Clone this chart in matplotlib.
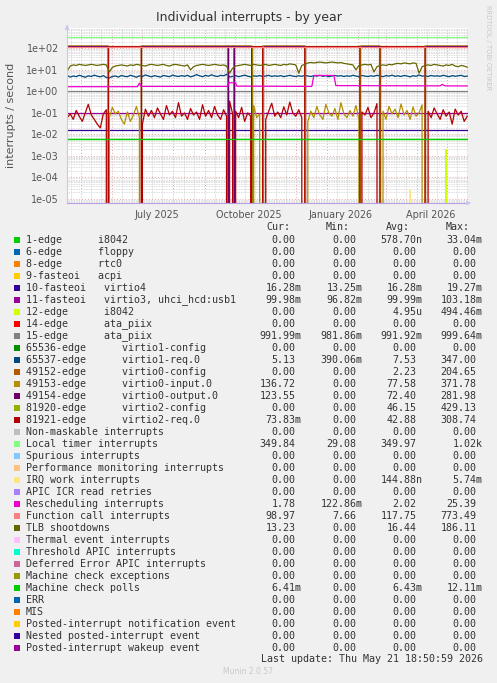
import numpy as np
import pandas as pd
import matplotlib
matplotlib.use('Agg')
import matplotlib.pyplot as plt
import matplotlib.dates as mdates
from matplotlib.patches import Rectangle
from matplotlib.ticker import FixedLocator, LogLocator, NullFormatter

W, H = 497, 683

#%% data
start = pd.Timestamp('2025-04-16 18:50')
end = pd.Timestamp('2026-05-21 18:50')
first_sample = pd.Timestamp('2025-04-17')   # samples every 3 days

# noisy low trace (virtio2-req.0 in R periods, virtio0-input.0 in G periods)
low_trace = [0.06, 0.09, 0.05, 0.13, 0.07, 0.04, 0.10, 0.25, 0.08, 0.05,
             0.03, 0.02, 0.09, 0.14, 0.06, 0.18, 0.09, 0.12, 0.05, 0.03,
             0.11, 0.04, 0.08, 0.20, 0.06, 0.03, 0.15, 0.07, 0.13, 0.06,
             0.17, 0.09, 0.05, 0.22, 0.08, 0.12, 0.06, 0.30, 0.07, 0.10,
             0.05, 0.16, 0.08, 0.11, 0.05, 0.24, 0.07, 0.13, 0.06, 0.20,
             0.08, 0.05, 0.14, 0.07, 0.35, 0.09, 0.12, 0.06, 0.18, 0.04,
             0.10, 0.07, 0.22, 0.06, 0.09, 0.15, 0.05, 0.12, 0.28, 0.07,
             0.11, 0.06, 0.19, 0.08, 0.32, 0.10, 0.07, 0.14, 0.06, 0.09,
             0.04, 0.12, 0.06, 0.20, 0.08, 0.05, 0.25, 0.10, 0.07, 0.16,
             0.05, 0.30, 0.09, 0.06, 0.13, 0.07, 0.22, 0.05, 0.11, 0.08,
             0.18, 0.06, 0.10, 0.27, 0.07, 0.12, 0.05, 0.20, 0.09, 0.15,
             0.06, 0.26, 0.08, 0.13, 0.05, 0.19, 0.07, 0.10, 0.24, 0.08,
             0.12, 0.06, 0.17, 0.09, 0.05, 0.14, 0.07, 0.11, 0.03, 0.15,
             0.08, 0.12, 0.04, 0.07]

tlb_shootdowns = [9, 15, 17, 16, 18, 17, 16, 17, 18, 17,
                  16, 17, 18, 17, 8, 13, 15, 16, 17, 16,
                  15, 17, 16, 18, 17, 16, 15, 17, 18, 17,
                  16, 17, 18, 16, 15, 17, 18, 17, 16, 15,
                  17, 10, 14, 16, 17, 18, 17, 16, 17, 18,
                  17, 16, 17, 15, 7, 12, 15, 16, 17, 18,
                  17, 16, 18, 17, 16, 17, 18, 16, 17, 18,
                  17, 16, 18, 17, 19, 18, 17, 7, 16, 18,
                  21, 22, 21, 22, 23, 22, 21, 22, 23, 22,
                  21, 22, 20, 19, 18, 17, 10, 16, 17, 18,
                  17, 18, 8, 14, 16, 17, 16, 18, 17, 19,
                  20, 19, 21, 20, 19, 21, 20, 7, 14, 16,
                  17, 16, 18, 17, 16, 15, 17, 16, 18, 15,
                  14, 16, 15, 13.2]

virtio1_req = [5.5, 4.6, 5.2, 4.8, 5.6, 5.0, 4.5, 5.3, 4.9, 5.7,
               5.1, 4.7, 5.4, 4.4, 4.2, 4.9, 5.2, 4.6, 5.5, 5.0,
               4.8, 5.6, 5.1, 4.5, 5.3, 4.9, 5.8, 5.2, 4.7, 5.4,
               5.0, 4.6, 5.5, 5.1, 4.8, 5.7, 5.2, 4.9, 5.4, 5.0,
               5.6, 4.7, 5.2, 6.0, 5.3, 4.8, 5.5, 5.1, 5.9, 5.2,
               4.9, 5.6, 5.3, 6.2, 4.6, 5.0, 5.4, 4.8, 5.2, 5.7,
               5.1, 4.7, 5.3, 5.0, 5.5, 4.8, 5.2, 5.6, 4.9, 5.3,
               5.0, 5.4, 4.8, 5.2, 5.6, 5.1, 4.9, 5.3, 5.0, 5.5,
               5.2, 4.9, 5.4, 5.1, 5.6, 5.0, 5.3, 4.8, 5.2, 5.5,
               5.1, 5.4, 4.9, 5.3, 5.0, 5.6, 5.2, 4.8, 5.5, 5.1,
               4.9, 5.3, 5.0, 5.6, 5.2, 4.8, 5.4, 5.1, 5.7, 5.0,
               5.3, 4.9, 5.5, 5.2, 4.7, 5.4, 5.0, 5.8, 5.1, 5.3,
               4.9, 5.5, 5.1, 5.3, 5.0, 5.6, 5.2, 4.8, 5.4, 5.0,
               5.3, 5.6, 4.9, 5.13]

# disk traffic moves between virtio0 and virtio2, every switch drops to zero
switch_dates = ['2025-05-28', '2025-06-30', '2025-09-24', '2025-09-30', '2025-10-18',
                '2025-10-29', '2025-12-10', '2026-02-03', '2026-02-23', '2026-04-09']
period_kind = ['R', 'G', 'R', 'R', 'R', 'G', 'R', 'G', 'R', 'G', 'R']
virtio0_input_high = 130
virtio0_output_high = 122
virtio2_config_high = 135
virtio2_req_high = 120

resched_dates = ['2025-04-17', '2025-06-26', '2025-06-28', '2025-06-30', '2025-09-24',
                 '2025-09-25', '2025-10-02', '2025-10-03', '2025-12-17', '2025-12-19',
                 '2026-01-08', '2026-01-10', '2026-04-24', '2026-04-26', '2026-04-29',
                 '2026-05-21']
resched_vals = [1.65, 1.65, 2.4, 1.7, 1.7, 2.5, 2.5, 1.75, 1.7, 5.5,
                5.5, 1.85, 1.8, 2.1, 1.8, 1.78]

local_timer = 350
function_call = 118
ata_piix_15 = 0.992
virtio3_usb = 0.0999
virtio4 = 0.0163
mce_polls = 0.0064

kbd_dates = ['2026-04-29', '2026-04-30', '2026-05-01']
kbd_vals = [0, 2.0e-3, 0]
irq_work_dates = ['2026-03-24', '2026-03-25', '2026-03-26']
irq_work_vals = [0, 2.5e-5, 0]

legend_labels = ['1-edge      i8042', '6-edge      floppy', '8-edge      rtc0',
                 '9-fasteoi   acpi', '10-fasteoi   virtio4',
                 '11-fasteoi   virtio3, uhci_hcd:usb1', '12-edge      i8042',
                 '14-edge      ata_piix', '15-edge      ata_piix',
                 '65536-edge      virtio1-config', '65537-edge      virtio1-req.0',
                 '49152-edge      virtio0-config', '49153-edge      virtio0-input.0',
                 '49154-edge      virtio0-output.0', '81920-edge      virtio2-config',
                 '81921-edge      virtio2-req.0', 'Non-maskable interrupts',
                 'Local timer interrupts', 'Spurious interrupts',
                 'Performance monitoring interrupts', 'IRQ work interrupts',
                 'APIC ICR read retries', 'Rescheduling interrupts',
                 'Function call interrupts', 'TLB shootdowns', 'Thermal event interrupts',
                 'Threshold APIC interrupts', 'Deferred Error APIC interrupts',
                 'Machine check exceptions', 'Machine check polls', 'ERR', 'MIS',
                 'Posted-interrupt notification event', 'Nested posted-interrupt event',
                 'Posted-interrupt wakeup event']
legend_colors = ['#00CC00', '#0066B3', '#FF8000', '#FFCC00', '#330099', '#990099',
                 '#CCFF00', '#FF0000', '#808080', '#008F00', '#00487D', '#B35A00',
                 '#B38F00', '#6B006B', '#8FB300', '#B30000', '#BEBEBE', '#80FF80',
                 '#80C9FF', '#FFC080', '#FFE680', '#AA80FF', '#EE00CC', '#FF8080',
                 '#666600', '#FFBFFF', '#00FFCC', '#CC6699', '#999900', '#00CC00',
                 '#0066B3', '#FF8000', '#FFCC00', '#330099', '#990099']
z = '0.00'
cur_vals = [z, z, z, z, '16.28m', '99.98m', z, z, '991.99m', z, '5.13', z, '136.72',
            '123.55', z, '73.83m', z, '349.84', z, z, z, z, '1.78', '98.97', '13.23',
            z, z, z, z, '6.41m', z, z, z, z, z]
min_vals = [z, z, z, z, '13.25m', '96.82m', z, z, '981.86m', z, '390.06m', z, z,
            z, z, z, z, '29.08', z, z, z, z, '122.86m', '7.66', z,
            z, z, z, z, z, z, z, z, z, z]
avg_vals = ['578.70n', z, z, z, '16.28m', '99.99m', '4.95u', z, '991.92m', z, '7.53',
            '2.23', '77.58', '72.40', '46.15', '42.88', z, '349.97', z, z, '144.88n', z,
            '2.02', '117.75', '16.44', z, z, z, z, '6.43m', z, z, z, z, z]
max_vals = ['33.04m', z, z, z, '19.27m', '103.18m', '494.46m', z, '999.64m', z, '347.00',
            '204.65', '371.78', '281.98', '429.13', '308.74', z, '1.02k', z, z, '5.74m', z,
            '25.39', '773.49', '186.11', z, z, z, z, '12.11m', z, z, z, z, z]

#%% build the virtio series from the switch list
sample_dates = pd.date_range(first_sample, periods=len(low_trace), freq='3D')
low = np.array(low_trace)
edges = [start] + [pd.Timestamp(d) for d in switch_dates] + [end]


def virtio_series(high, high_kind, low_values):
    xs, ys = [], []
    for a, b, kind in zip(edges[:-1], edges[1:], period_kind):
        if a != start:
            xs.append(a); ys.append(0)
        if kind == high_kind:
            xs += [a, b]; ys += [high, high]
        else:
            m = (sample_dates > a) & (sample_dates < b)
            xs += list(sample_dates[m]); ys += list(low_values[m])
        if b != end:
            xs.append(b); ys.append(0)
    return xs, ys


#%% figure
fig = plt.figure(figsize=(W / 100, H / 100), dpi=100, facecolor='#F0F0F0')
ax = fig.add_axes([67 / W, 1 - 203 / H, 401 / W, 175 / H])
ax.set_facecolor('white')
ax.set_yscale('log')
ax.set_xlim(start, end)
ax.set_ylim(6.5e-6, 880)

lw = 0.9
ax.plot([start, end], [mce_polls] * 2, color='#00CC00', lw=lw)  # drawn again below in order
ax.plot([start, end], [virtio4] * 2, color='#330099', lw=lw)
ax.plot([start, end], [virtio3_usb] * 2, color='#990099', lw=lw)
ax.plot(pd.to_datetime(kbd_dates), kbd_vals, color='#CCFF00', lw=lw)
ax.plot([start, end], [ata_piix_15] * 2, color='#808080', lw=lw)
ax.plot(sample_dates, virtio1_req, color='#00487D', lw=lw)
x, y = virtio_series(virtio0_input_high, 'R', low)
ax.plot(x, y, color='#B38F00', lw=lw)
x, y = virtio_series(virtio0_output_high, 'R', low * 0)
ax.plot(x, y, color='#6B006B', lw=lw)
x, y = virtio_series(virtio2_config_high, 'G', low * 0)
ax.plot(x, y, color='#8FB300', lw=lw)
x, y = virtio_series(virtio2_req_high, 'G', low)
ax.plot(x, y, color='#B30000', lw=lw)
ax.plot([start, end], [local_timer] * 2, color='#80FF80', lw=lw)
ax.plot(pd.to_datetime(irq_work_dates), irq_work_vals, color='#FFE680', lw=lw)
ax.plot(pd.to_datetime(resched_dates), resched_vals, color='#EE00CC', lw=lw)
ax.plot([start, end], [function_call] * 2, color='#FF8080', lw=lw)
ax.plot(sample_dates, tlb_shootdowns, color='#666600', lw=lw)
ax.plot([start, end], [mce_polls] * 2, color='#00CC00', lw=lw)

# grid
ax.set_axisbelow(True)
ax.yaxis.set_major_locator(FixedLocator([1e-5, 1e-4, 1e-3, 1e-2, 1e-1, 1, 10, 100]))
ax.yaxis.set_major_formatter(lambda v, p: '%.0e' % v)
ax.yaxis.set_minor_locator(LogLocator(base=10, subs=range(2, 10), numticks=30))
ax.yaxis.set_minor_formatter(NullFormatter())
ax.grid(True, which='minor', axis='y', color='#D0D0D0', ls=(0, (1, 1)), lw=0.6)
ax.grid(True, which='major', axis='y', color='#EBA5A5', ls=(0, (1, 2)), lw=0.7)
ax.xaxis.set_minor_locator(mdates.DayLocator(bymonthday=[11, 21]))
ax.grid(True, which='minor', axis='x', color='#D0D0D0', ls=(0, (1, 1)), lw=0.6)
for d in pd.date_range('2025-05-01', '2026-05-01', freq='MS'):
    ax.axvline(d, color='#EBA5A5', ls=(0, (1, 2)), lw=0.7, zorder=0.5)

label_dates = pd.to_datetime(['2025-07-15', '2025-10-15', '2026-01-15', '2026-04-15'])
ax.set_xticks(label_dates)
ax.set_xticklabels(['July 2025', 'October 2025', 'January 2026', 'April 2026'])
ax.tick_params(axis='both', which='both', length=0, labelsize=6.9, colors='#555555')
ax.tick_params(axis='x', pad=5)
ax.tick_params(axis='y', pad=6)

for s in ['top', 'right']:
    ax.spines[s].set_visible(False)
ax.spines['left'].set_color('#C8C8F0')
ax.spines['bottom'].set_color('#B8A0E0')
ax.annotate('', xy=(1.015, 0), xytext=(0.99, 0), xycoords='axes fraction',
            arrowprops=dict(arrowstyle='-|>', color='#C8C8F0', lw=0.8, mutation_scale=6))
ax.annotate('', xy=(0, 1.035), xytext=(0, 0.99), xycoords='axes fraction',
            arrowprops=dict(arrowstyle='-|>', color='#C8C8F0', lw=0.8, mutation_scale=6))

fig.text(0.5, 1 - 18 / H, 'Individual interrupts - by year', ha='center', va='center',
         fontsize=9, color='#333333')
fig.text(11 / W, 1 - 115 / H, 'interrupts / second', rotation=90, ha='center',
         va='center', fontsize=8, color='#555555')
fig.text(488 / W, 1 - 5 / H, 'RRDTOOL / TOBI OETIKER', rotation=270, ha='center',
         va='top', fontsize=4.8, color='#C8C8C8')

#%% legend table
mono = dict(family='DejaVu Sans Mono', fontsize=7.2, color='#333333', va='center')
col_right = [295.7, 356.7, 416.7, 476.7]
for name, xr in zip(['Cur:', 'Min:', 'Avg:', 'Max:'], [290, 350, 410, 470]):
    fig.text(xr / W, 1 - 227.5 / H, name, ha='right', **mono)

for i, (lab, col) in enumerate(zip(legend_labels, legend_colors)):
    yy = 240 + 12 * i
    fig.add_artist(Rectangle((14 / W, 1 - (yy + 3) / H), 6 / W, 6 / H,
                             transform=fig.transFigure, facecolor=col, edgecolor='none'))
    fig.text(26 / W, 1 - yy / H, lab, ha='left', **mono)
    for vals, xr in zip([cur_vals, min_vals, avg_vals, max_vals], col_right):
        v = vals[i]
        xx = xr + 6 if v[-1].isalpha() else xr
        fig.text(xx / W, 1 - yy / H, v, ha='right', **mono)

fig.text(482.7 / W, 1 - 659 / H, 'Last update: Thu May 21 18:50:59 2026', ha='right', **mono)
fig.text(248 / W, 1 - 672 / H, 'Munin 2.0.57', ha='center', va='center',
         fontsize=5.5, color='#C8C8C8')

fig.savefig('out.png', dpi=100, facecolor=fig.get_facecolor())
